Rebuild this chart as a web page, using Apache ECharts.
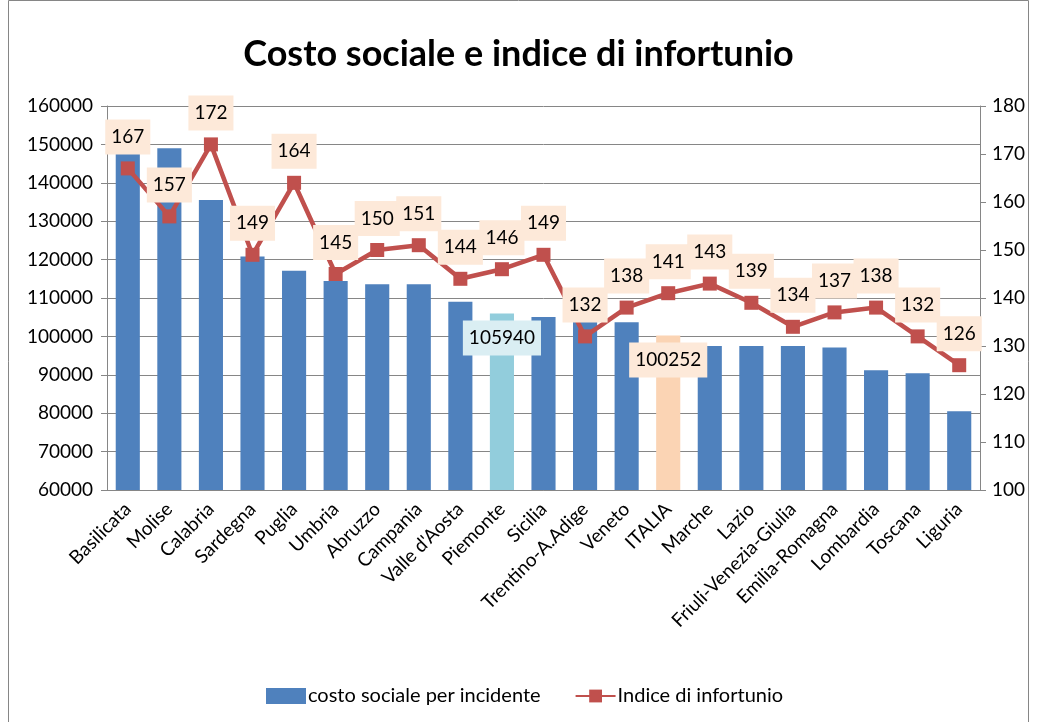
<!DOCTYPE html>
<html><head><meta charset="utf-8">
<script src="https://cdn.jsdelivr.net/npm/echarts@6/dist/echarts.min.js"></script>
<style>html,body{margin:0;padding:0;background:#fff}#c{width:1037px;height:722px}</style>
</head><body><div id="c"></div>
<script>
const categories = ["Basilicata","Molise","Calabria","Sardegna","Puglia","Umbria","Abruzzo","Campania","Valle d'Aosta","Piemonte","Sicilia","Trentino-A.Adige","Veneto","ITALIA","Marche","Lazio","Friuli-Venezia-Giulia","Emilia-Romagna","Lombardia","Toscana","Liguria"];
const costoSociale = [147700,149000,135500,120800,117100,114400,113600,113600,109000,105940,105050,104500,103700,100252,97500,97500,97500,97100,91200,90400,80500];
const indiceInfortunio = [167,157,172,149,164,145,150,151,144,146,149,132,138,141,143,139,134,137,138,132,126];
const leftTicks = [60000,160000,10000];
const rightTicks = [100,180,10];

const FONT = 'Lato';
const special = {
  'Piemonte': {color:'#92CDDC', labelBg:'#DAEEF3'},
  'ITALIA': {color:'#FBD4B4', labelBg:'#FDE9D9'}
};
const barData = costoSociale.map((v,i)=>{
  const s = special[categories[i]];
  if (!s) return v;
  return {value:v, itemStyle:{color:s.color},
    label:{show:true, position:'insideTop', distance:7, color:'#000', fontFamily:FONT, fontSize:19,
      backgroundColor:s.labelBg, padding:[8,6,8,6]}};
});

const chart = echarts.init(document.getElementById('c'));
chart.setOption({
  animation:false,
  title:{text:'Costo sociale e indice di infortunio', left:'center', top:31,
    textStyle:{fontFamily:FONT, fontWeight:'bold', fontSize:36, color:'#000'}},
  grid:{left:107, right:57, top:106, bottom:232},
  legend:{top:681, left:261, itemGap:34, itemWidth:40, itemHeight:16,
    textStyle:{fontFamily:FONT, fontSize:20, color:'#000', padding:[0,0,0,-3]},
    data:[{name:'costo sociale per incidente', icon:'rect'},{name:'Indice di infortunio'}]},
  xAxis:{type:'category', data:categories,
    axisLine:{lineStyle:{color:'#868686'}}, axisTick:{show:false},
    axisLabel:{rotate:45, color:'#000', fontFamily:FONT, fontSize:19, interval:0, margin:16}},
  yAxis:[
    {type:'value', min:leftTicks[0], max:leftTicks[1], interval:leftTicks[2], position:'left',
      axisLine:{show:true, lineStyle:{color:'#868686'}}, axisTick:{show:true, length:6, lineStyle:{color:'#868686'}},
      splitLine:{lineStyle:{color:'#868686', width:1}},
      axisLabel:{color:'#000', fontFamily:FONT, fontSize:19, margin:14, formatter:v=>String(v)}},
    {type:'value', min:rightTicks[0], max:rightTicks[1], interval:rightTicks[2], position:'right',
      axisLine:{show:true, lineStyle:{color:'#868686'}}, axisTick:{show:true, length:6, lineStyle:{color:'#868686'}},
      splitLine:{show:false},
      axisLabel:{color:'#000', fontFamily:FONT, fontSize:19, margin:12}}
  ],
  series:[
    {name:'costo sociale per incidente', type:'bar', yAxisIndex:0, data:barData, barWidth:'58%',
      itemStyle:{color:'#4F81BD'}},
    {name:'Indice di infortunio', type:'line', yAxisIndex:1, data:indiceInfortunio,
      symbol:'rect', symbolSize:14, lineStyle:{color:'#C0504D', width:4.5}, itemStyle:{color:'#C0504D'},
      label:{show:true, position:'top', distance:7, color:'#000', fontFamily:FONT, fontSize:19,
        backgroundColor:'#FDE9D9', padding:[8,6,8,6]}}
  ],
  graphic:[{type:'rect', shape:{x:8.5, y:0.5, width:1020, height:730}, style:{fill:'none', stroke:'#868686', lineWidth:1}, silent:true}]
});
</script></body></html>
